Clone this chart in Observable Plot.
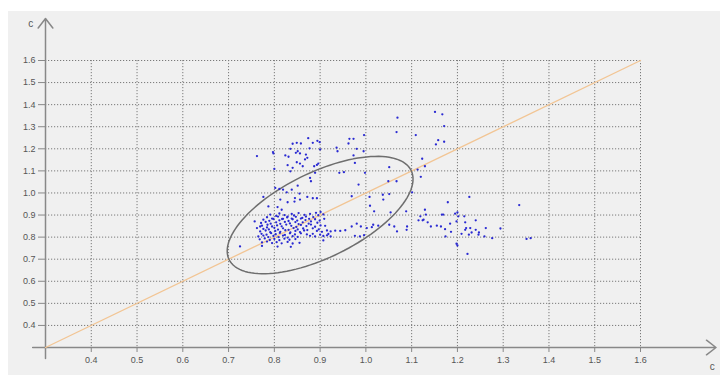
<!DOCTYPE html>
<html>
<head>
<meta charset="utf-8">
<script src="https://cdn.jsdelivr.net/npm/d3@7"></script>
<script src="https://cdn.jsdelivr.net/npm/@observablehq/plot@0.6"></script>
<style>
  html, body { margin: 0; padding: 0; background: #ffffff; }
  #chart { width: 720px; height: 381px; }
</style>
</head>
<body>
<div id="chart"></div>
<script>
// ---- data ----
const xTicks = [0.4, 0.5, 0.6, 0.7, 0.8, 0.9, 1.0, 1.1, 1.2, 1.3, 1.4, 1.5, 1.6];
const yTicks = [0.4, 0.5, 0.6, 0.7, 0.8, 0.9, 1.0, 1.1, 1.2, 1.3, 1.4, 1.5, 1.6];
const axisLabelX = "c";
const axisLabelY = "c";
const diagonal = [[0.3, 0.3], [1.6, 1.6]];
const ellipseCenter = [0.9, 0.9];
const ellipseAxisA = [0.203, 0.0];
const ellipseAxisB = [0.163, 0.210];

const upperPts = [
  [0.762,1.167],[0.797,1.185],[0.798,1.179],[0.835,1.200],[0.840,1.223],[0.849,1.227],[0.858,1.224],
  [0.874,1.248],[0.877,1.202],[0.884,1.227],[0.894,1.236],[0.899,1.230],[0.900,1.197],[0.824,1.170],
  [0.831,1.164],[0.847,1.182],[0.851,1.189],[0.856,1.179],[0.869,1.174],[0.872,1.159],[0.867,1.152],
  [0.849,1.139],[0.856,1.133],[0.800,1.109],[0.829,1.126],[0.835,1.098],[0.840,1.114],[0.862,1.121],
  [0.887,1.121],[0.893,1.127],[0.896,1.133],[0.878,1.068],[0.880,1.053],[0.889,1.091],[0.936,1.205],
  [0.938,1.189],[0.964,1.245],[0.973,1.245],[0.962,1.224],[0.980,1.200],[0.995,1.189],[0.973,1.170],
  [0.996,1.262],[0.976,1.136],[0.942,1.091],[0.952,1.094],[0.998,1.091],[0.984,1.038],[1.069,1.341],
  [1.067,1.276],[1.051,1.117],[1.049,1.053],[1.067,1.053],[1.109,1.262],[1.151,1.367],[1.167,1.356],
  [1.171,1.303],[1.158,1.239],[1.153,1.220],[1.171,1.232],[1.123,1.155],[1.129,1.121],[1.113,1.106],
  [1.120,1.073],[1.101,1.003],[1.037,0.992],[1.038,0.970],[1.051,0.995],[0.969,0.985],[1.008,0.982]
];

const corePts = [
  [0.802,1.023],[0.811,1.018],[0.819,1.015],[0.827,1.003],[0.776,0.982],[0.838,1.015],[0.851,1.033],
  [0.855,0.997],[0.845,0.977],[0.856,0.970],[0.872,0.982],[0.884,0.976],[0.893,0.976],[0.813,0.970],
  [0.829,0.958],[0.844,0.961],[0.787,0.939],[0.807,0.936],[0.816,0.924],[0.757,0.871],[0.762,0.841],
  [0.769,0.848],[0.784,0.844],
  [0.791,0.902],[0.804,0.896],[0.811,0.907],[0.822,0.900],[0.829,0.893],[0.838,0.905],[0.843,0.898],
  [0.853,0.909],[0.866,0.901],[0.869,0.893],[0.878,0.905],[0.891,0.910],[0.896,0.899],[0.901,0.914],[0.907,0.903],
  [0.784,0.890],[0.795,0.884],[0.808,0.893],[0.817,0.882],[0.828,0.889],[0.838,0.884],[0.847,0.892],[0.861,0.887],[0.876,0.883],[0.885,0.891],
  [0.776,0.879],[0.789,0.874],[0.798,0.882],[0.811,0.876],[0.819,0.883],[0.831,0.873],[0.840,0.881],
  [0.850,0.875],[0.858,0.884],[0.868,0.877],[0.880,0.871],[0.889,0.881],[0.899,0.875],[0.909,0.883],
  [0.771,0.864],[0.781,0.869],[0.792,0.861],[0.804,0.867],[0.813,0.860],[0.823,0.869],[0.834,0.862],[0.846,0.868],[0.853,0.859],[0.862,0.867],[0.875,0.861],[0.894,0.865],
  [0.773,0.852],[0.785,0.856],[0.795,0.848],[0.806,0.853],[0.816,0.849],[0.826,0.857],[0.837,0.851],
  [0.848,0.846],[0.858,0.855],[0.870,0.850],[0.880,0.857],[0.889,0.847],[0.901,0.853],[0.911,0.851],
  [0.776,0.837],[0.788,0.835],[0.800,0.842],[0.808,0.834],[0.819,0.840],[0.831,0.833],[0.842,0.841],[0.851,0.835],[0.863,0.839],[0.872,0.832],[0.884,0.840],[0.897,0.835],
  [0.769,0.826],[0.781,0.830],[0.791,0.822],[0.802,0.828],[0.813,0.824],[0.824,0.831],[0.835,0.821],
  [0.846,0.828],[0.856,0.823],[0.865,0.830],[0.893,0.828],[0.904,0.824],[0.915,0.830],[0.923,0.826],
  [0.933,0.829],[0.944,0.828],[0.955,0.831],
  [0.772,0.815],[0.783,0.811],[0.793,0.818],[0.803,0.813],[0.812,0.819],[0.823,0.810],[0.834,0.817],[0.845,0.812],[0.858,0.817],[0.871,0.812],[0.884,0.815],[0.900,0.811],[0.918,0.814],
  [0.765,0.803],[0.776,0.807],[0.787,0.800],[0.798,0.805],[0.809,0.800],[0.819,0.807],[0.829,0.798],
  [0.840,0.804],[0.851,0.801],[0.878,0.806],[0.889,0.803],[0.907,0.805],[0.915,0.808],[0.923,0.803],
  [0.976,0.806],[0.987,0.803],[0.996,0.809],
  [0.768,0.790],[0.779,0.794],[0.790,0.787],[0.800,0.792],[0.811,0.786],[0.822,0.793],[0.833,0.788],[0.846,0.791],
  [0.773,0.776],[0.784,0.780],[0.795,0.773],[0.805,0.777],[0.816,0.772],[0.829,0.778],[0.840,0.771],
  [0.855,0.774],[0.907,0.785],
  [0.725,0.758],[0.773,0.760],[0.807,0.757],[0.836,0.756]
];

const rightPts = [
  [0.969,0.848],[0.980,0.861],[0.989,0.848],[1.002,0.841],[1.013,0.845],[1.016,0.856],[1.027,0.852],
  [1.009,0.942],[1.018,0.917],[1.226,0.982],[1.179,0.958],[1.335,0.945],[1.088,0.917],[1.054,0.912],
  [1.129,0.924],[1.131,0.902],[1.119,0.894],[1.126,0.879],[1.135,0.867],[1.142,0.848],[1.115,0.876],
  [1.124,0.876],[1.166,0.902],[1.169,0.902],[1.155,0.852],[1.164,0.848],[1.173,0.836],[1.184,0.861],
  [1.186,0.824],[1.174,0.803],[1.195,0.906],[1.200,0.912],[1.202,0.894],[1.198,0.871],[1.215,0.894],
  [1.217,0.867],[1.228,0.841],[1.219,0.841],[1.217,0.833],[1.209,0.815],[1.225,0.811],[1.231,0.821],
  [1.240,0.876],[1.240,0.833],[1.247,0.821],[1.246,0.811],[1.262,0.841],[1.259,0.803],[1.276,0.795],
  [1.198,0.770],[1.200,0.762],[1.222,0.724],[1.294,0.839],[1.351,0.792],[1.360,0.795],
  [1.090,0.848],[1.089,0.833],[1.062,0.848],[1.051,0.856],[1.068,0.826]
];

// ---- build ----
const points = [...upperPts, ...corePts, ...rightPts].map(([x, y]) => ({x, y}));
const ellipse = d3.range(0, 361, 3).map(deg => {
  const t = deg * Math.PI / 180;
  return {
    x: ellipseCenter[0] + ellipseAxisA[0] * Math.cos(t) + ellipseAxisA[1] * Math.sin(t),
    y: ellipseCenter[1] + ellipseAxisB[0] * Math.cos(t) + ellipseAxisB[1] * Math.sin(t)
  };
});
const diag = diagonal.map(([x, y]) => ({x, y}));

const W = 720, H = 381;
const background = () => {
  const r = document.createElementNS("http://www.w3.org/2000/svg", "rect");
  r.setAttribute("x", 8); r.setAttribute("y", 11);
  r.setAttribute("width", W - 8); r.setAttribute("height", H - 17);
  r.setAttribute("fill", "#f0f0f0");
  return r;
};

const axisColor = "#888";
const chart = Plot.plot({
  width: W, height: H,
  marginLeft: 45, marginRight: 80, marginTop: 60, marginBottom: 34,
  x: {domain: [0.3, 1.6]},
  y: {domain: [0.3, 1.6]},
  style: {background: "#ffffff", fontFamily: "'Liberation Sans', Arial, sans-serif", fontSize: "9px", color: "#555"},
  marks: [
    background,
    Plot.gridX(xTicks, {stroke: "#7a7a7a", strokeOpacity: 1, strokeDasharray: "1.2,1.8", strokeWidth: 1}),
    Plot.gridY(yTicks, {stroke: "#7a7a7a", strokeOpacity: 1, strokeDasharray: "1.2,1.8", strokeWidth: 1}),
    Plot.axisX(xTicks, {tickSize: 5, tickPadding: 4, tickFormat: d3.format(".1f"), stroke: axisColor, fill: "#555", label: null}),
    Plot.axisY(yTicks, {tickSize: 7, tickPadding: 3, tickFormat: d3.format(".1f"), stroke: axisColor, fill: "#555", label: null}),
    Plot.arrow([{x1: 0.272, y1: 0.3, x2: 1.765, y2: 0.3}], {x1: "x1", y1: "y1", x2: "x2", y2: "y2", stroke: axisColor, strokeWidth: 1.5, headAngle: 75, headLength: 12}),
    Plot.arrow([{x1: 0.3, y1: 0.25, x2: 0.3, y2: 1.79}], {x1: "x1", y1: "y1", x2: "x2", y2: "y2", stroke: axisColor, strokeWidth: 1.5, headAngle: 75, headLength: 12}),
    Plot.line(diag, {x: "x", y: "y", stroke: "#f2c594", strokeWidth: 1.3}),
    Plot.line(ellipse, {x: "x", y: "y", stroke: "#6e6e6e", strokeWidth: 1.5, curve: "linear"}),
    Plot.dot(points, {x: "x", y: "y", r: 1.15, fill: "#2a2ad2", stroke: "none"}),
    Plot.text([axisLabelY], {x: 0.268, y: 1.765, text: d => d, fontSize: 10, fill: "#555"}),
    Plot.text([axisLabelX], {x: 1.757, y: 0.214, text: d => d, fontSize: 10, fill: "#555"})
  ]
});
document.getElementById("chart").appendChild(chart);
</script>
</body>
</html>
